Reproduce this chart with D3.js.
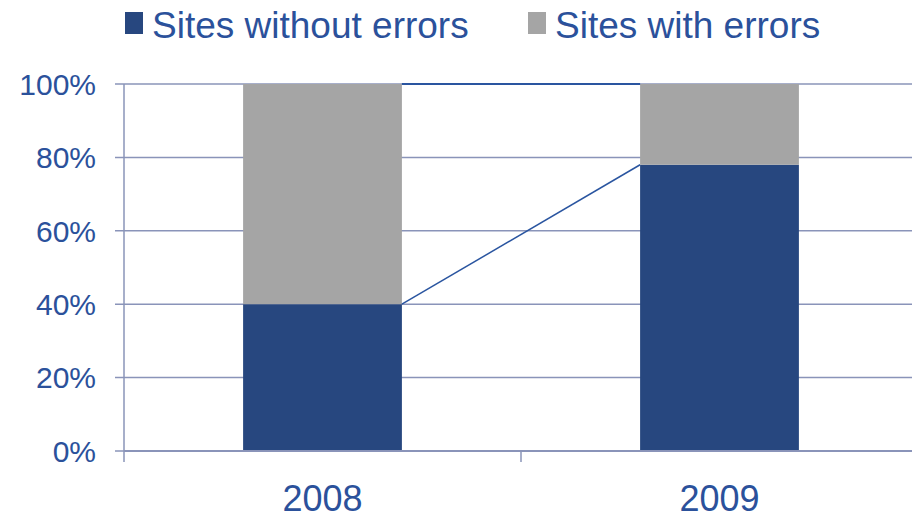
<!DOCTYPE html>
<html>
<head>
<meta charset="utf-8">
<script src="https://cdn.jsdelivr.net/npm/d3@7"></script>
<style>
  body { margin: 0; background: #fff; }
  text { font-family: "Liberation Sans", Arial, sans-serif; fill: #2b519b; }
</style>
</head>
<body>
<script>
// chart data
var years = ["2008", "2009"];
var withoutErrors = [40, 78];
var withErrors = [60, 22];
var yTicks = [0, 20, 40, 60, 80, 100];
var seriesNames = ["Sites without errors", "Sites with errors"];
var seriesColors = ["#27477f", "#a5a5a5"];

var svgWidth = 912;
var svgHeight = 519;

var plot = { left: 124, right: 918, top: 84, bottom: 451 };

var svg = d3.select("body")
  .append("svg")
  .attr("width", svgWidth)
  .attr("height", svgHeight);

// scales
var yScale = d3.scaleLinear()
  .domain([0, 100])
  .range([plot.bottom, plot.top]);

var xScale = d3.scaleBand()
  .domain(years)
  .range([plot.left, plot.right])
  .paddingInner(0.6)
  .paddingOuter(0.3);

// category boundaries for the x axis ticks
var xCat = d3.scaleBand()
  .domain(years)
  .range([plot.left, plot.right]);

var gridColor = "#8a94b9";

// gridlines + left tick marks
svg.append("g")
  .selectAll("line")
  .data(yTicks)
  .enter()
  .append("line")
  .attr("x1", plot.left - 9)
  .attr("x2", svgWidth)
  .attr("y1", d => yScale(d))
  .attr("y2", d => yScale(d))
  .attr("stroke", gridColor)
  .attr("stroke-width", 1.5);

// y labels
svg.append("g")
  .selectAll("text")
  .data(yTicks)
  .enter()
  .append("text")
  .attr("x", 96)
  .attr("y", d => yScale(d))
  .attr("dy", "0.36em")
  .attr("text-anchor", "end")
  .style("font-size", "30px")
  .text(d => d + "%");

// stacked bars
var stacks = years.map((y, i) => ({ year: y, vals: [withoutErrors[i], withErrors[i]] }));

stacks.forEach(function(s) {
  var base = 0;
  s.vals.forEach(function(v, j) {
    svg.append("rect")
      .attr("x", xScale(s.year))
      .attr("y", yScale(base + v))
      .attr("width", xScale.bandwidth())
      .attr("height", yScale(base) - yScale(base + v))
      .attr("fill", seriesColors[j]);
    base += v;
  });
});

// series lines between the bars
var lineColor = "#2a55a0";
[0, 1].forEach(function(j) {
  var top0 = d3.sum(stacks[0].vals.slice(0, j + 1));
  var top1 = d3.sum(stacks[1].vals.slice(0, j + 1));
  svg.append("line")
    .attr("x1", xScale(years[0]) + xScale.bandwidth())
    .attr("y1", yScale(top0))
    .attr("x2", xScale(years[1]))
    .attr("y2", yScale(top1))
    .attr("stroke", lineColor)
    .attr("stroke-width", j == 1 ? 2 : 1.5);
});

// axes lines
svg.append("line")
  .attr("x1", plot.left).attr("x2", plot.left)
  .attr("y1", plot.top).attr("y2", plot.bottom + 11)
  .attr("stroke", gridColor).attr("stroke-width", 1.5);

svg.append("line")
  .attr("x1", plot.left).attr("x2", svgWidth)
  .attr("y1", plot.bottom).attr("y2", plot.bottom)
  .attr("stroke", gridColor).attr("stroke-width", 2);

svg.append("g")
  .selectAll("line")
  .data(years.slice(1))
  .enter()
  .append("line")
  .attr("x1", d => xCat(d)).attr("x2", d => xCat(d))
  .attr("y1", plot.bottom).attr("y2", plot.bottom + 11)
  .attr("stroke", gridColor).attr("stroke-width", 1.5);

// x labels
svg.append("g")
  .selectAll("text")
  .data(years)
  .enter()
  .append("text")
  .attr("x", d => xScale(d) + xScale.bandwidth() / 2)
  .attr("y", 511)
  .attr("text-anchor", "middle")
  .style("font-size", "36px")
  .text(d => d);

// legend
var legendX = [125, 528];
var legend = svg.append("g");
seriesNames.forEach(function(name, i) {
  legend.append("rect")
    .attr("x", legendX[i])
    .attr("y", 12)
    .attr("width", 18)
    .attr("height", 22)
    .attr("fill", seriesColors[i]);
  legend.append("text")
    .attr("x", legendX[i] + 27)
    .attr("y", 38)
    .style("font-size", "37px")
    .text(name);
});
</script>
</body>
</html>
